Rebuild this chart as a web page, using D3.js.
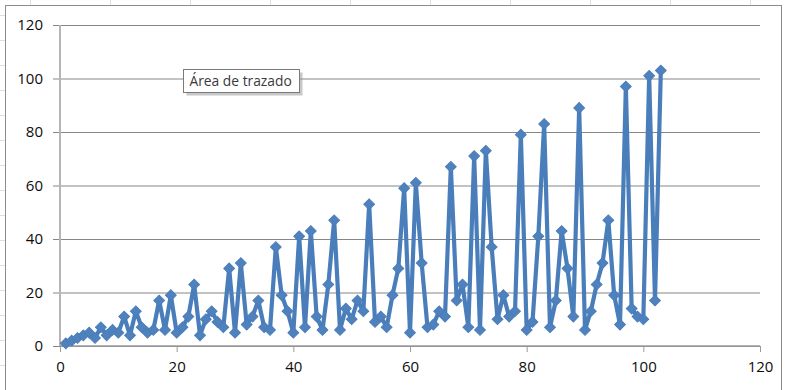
<!DOCTYPE html>
<html>
<head>
<meta charset="utf-8">
<script src="https://cdn.jsdelivr.net/npm/d3@7"></script>
<style>
  html, body { margin: 0; padding: 0; background: #ffffff; }
  svg { display: block; }
</style>
</head>
<body>
<svg id="chart" width="787" height="390"></svg>
<script>
// x positions 1..103 and the plotted value for each
const xValues = [
  1, 2, 3, 4, 5, 6, 7, 8, 9, 10, 11, 12, 13, 14, 15, 16, 17, 18, 19, 20,
  21, 22, 23, 24, 25, 26, 27, 28, 29, 30, 31, 32, 33, 34, 35, 36, 37, 38, 39, 40,
  41, 42, 43, 44, 45, 46, 47, 48, 49, 50, 51, 52, 53, 54, 55, 56, 57, 58, 59, 60,
  61, 62, 63, 64, 65, 66, 67, 68, 69, 70, 71, 72, 73, 74, 75, 76, 77, 78, 79, 80,
  81, 82, 83, 84, 85, 86, 87, 88, 89, 90, 91, 92, 93, 94, 95, 96, 97, 98, 99, 100,
  101, 102, 103
];
const yValues = [
  1, 2, 3, 4, 5, 3, 7, 4, 6, 5, 11, 4, 13, 7, 5, 6, 17, 6, 19, 5,
  7, 11, 23, 4, 10, 13, 9, 7, 29, 5, 31, 8, 11, 17, 7, 6, 37, 19, 13, 5,
  41, 7, 43, 11, 6, 23, 47, 6, 14, 10, 17, 13, 53, 9, 11, 7, 19, 29, 59, 5,
  61, 31, 7, 8, 13, 11, 67, 17, 23, 7, 71, 6, 73, 37, 10, 19, 11, 13, 79, 6,
  9, 41, 83, 7, 17, 43, 29, 11, 89, 6, 13, 23, 31, 47, 19, 8, 97, 14, 11, 10,
  101, 17, 103
];
const xTicks = [0, 20, 40, 60, 80, 100, 120];
const yTicks = [0, 20, 40, 60, 80, 100, 120];
const hoverLabel = "Área de trazado";

const svg = d3.select("#chart");
const W = 787, H = 390;

// sheet cell lines peeking around the chart frame
const sheet = svg.append("g").attr("stroke", "#dcdfe3").attr("stroke-width", 1);
d3.range(15, H, 25).forEach(y => sheet.append("line")
  .attr("x1", 0).attr("x2", 5).attr("y1", y + 0.5).attr("y2", y + 0.5));
d3.range(30, W, 80).forEach(x => sheet.append("line")
  .attr("x1", x + 0.5).attr("x2", x + 0.5).attr("y1", 0).attr("y2", 5));

// chart frame
svg.append("rect")
  .attr("x", 5.5).attr("y", 5.5)
  .attr("width", 776).attr("height", 420)
  .attr("fill", "#ffffff")
  .attr("stroke", "#8c8c8c").attr("stroke-width", 1);

const x = d3.scaleLinear().domain([0, 120]).range([60, 760]);
const y = d3.scaleLinear().domain([0, 120]).range([346, 25]);

// horizontal gridlines with outside ticks + labels
const yAxis = d3.axisLeft(y)
  .tickValues(yTicks)
  .tickSize(-(x(120) - x(0)))
  .tickPadding(10)
  .tickFormat(d3.format("d"));
const gy = svg.append("g").attr("transform", `translate(${x(0)},0)`).call(yAxis);
gy.select(".domain").remove();
gy.selectAll(".tick line").attr("stroke", "#868686").attr("stroke-width", 1);
gy.selectAll(".tick").append("line")
  .attr("x1", -7).attr("x2", 0)
  .attr("stroke", "#868686");
gy.selectAll(".tick text")
  .attr("x", -17)
  .attr("font-family", "'Open Sans', sans-serif")
  .attr("font-size", 15)
  .attr("fill", "#0d0d0d");

// vertical axis line
svg.append("line")
  .attr("x1", x(0)).attr("x2", x(0))
  .attr("y1", y(120)).attr("y2", y(0))
  .attr("stroke", "#b5b5b5").attr("stroke-width", 2);

// horizontal axis
const xAxis = d3.axisBottom(x)
  .tickValues(xTicks)
  .tickSize(6)
  .tickPadding(9)
  .tickFormat(d3.format("d"));
const gx = svg.append("g").attr("transform", `translate(0,${y(0)})`).call(xAxis);
gx.select(".domain").attr("stroke", "#9a9a9a").attr("stroke-width", 1.5)
  .attr("d", `M${x(0)},0H${x(120)}`);
gx.selectAll(".tick line").attr("stroke", "#9a9a9a");
gx.selectAll(".tick text")
  .attr("font-family", "'Open Sans', sans-serif")
  .attr("font-size", 15)
  .attr("fill", "#0d0d0d");

// series line
const pts = xValues.map((v, i) => [v, yValues[i]]);
const line = d3.line().x(d => x(d[0])).y(d => y(d[1]));
svg.append("path")
  .datum(pts)
  .attr("d", line)
  .attr("fill", "none")
  .attr("stroke", "#4a7ebb")
  .attr("stroke-width", 4.2)
  .attr("stroke-linejoin", "round");

// diamond markers
const diamond = d3.symbol().type(d3.symbolSquare).size(58);
svg.append("g").selectAll("path")
  .data(pts)
  .join("path")
  .attr("d", diamond)
  .attr("transform", d => `translate(${x(d[0])},${y(d[1])}) rotate(45)`)
  .attr("fill", "#4f81bd")
  .attr("stroke", "#4a7ebb")
  .attr("stroke-width", 1);

// hover hint box
const tip = svg.append("g").attr("transform", "translate(183.5,69.5)");
tip.append("rect")
  .attr("x", 3).attr("y", 3).attr("width", 116).attr("height", 23)
  .attr("fill", "#9a9a9a").attr("opacity", 0.55);
tip.append("rect")
  .attr("width", 116).attr("height", 23)
  .attr("fill", "#ffffff").attr("stroke", "#7a7a7a");
tip.append("text")
  .attr("x", 6).attr("y", 16.5)
  .attr("font-family", "'Open Sans', sans-serif")
  .attr("font-size", 13.8)
  .attr("fill", "#3a3a3a")
  .text(hoverLabel);
</script>
</body>
</html>
